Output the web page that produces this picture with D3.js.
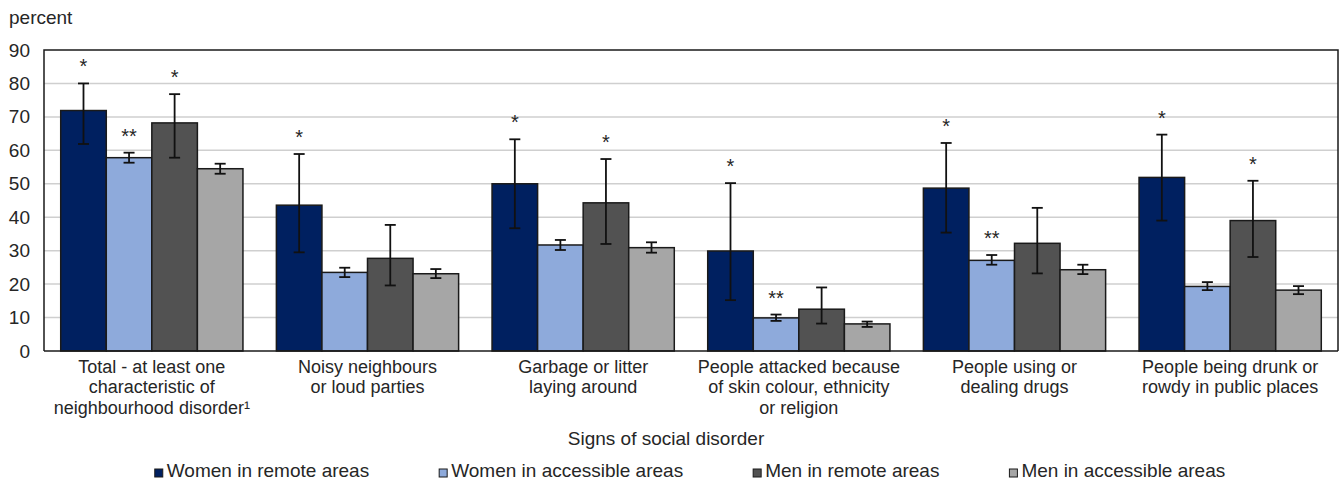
<!DOCTYPE html>
<html>
<head>
<meta charset="utf-8">
<script src="https://cdn.jsdelivr.net/npm/d3@7"></script>
<style>
  html, body { margin: 0; padding: 0; background: #fff; }
  svg { display: block; }
  text { font-family: "Liberation Sans", Arial, sans-serif; fill: #262626; }
</style>
</head>
<body>
<svg id="chart" width="1340" height="481"></svg>
<script>
// Signs of social disorder, by sex and remoteness of area (percent)
const categories = [
  ["Total - at least one", "characteristic of", "neighbourhood disorder\u00B9"],
  ["Noisy neighbours", "or loud parties"],
  ["Garbage or litter", "laying around"],
  ["People attacked because", "of skin colour, ethnicity", "or religion"],
  ["People using or", "dealing drugs"],
  ["People being drunk or", "rowdy in public places"]
];
const seriesNames = ["Women in remote areas", "Women in accessible areas", "Men in remote areas", "Men in accessible areas"];

const womenRemote      = [71.9, 43.6, 50.0, 29.9, 48.7, 51.9];
const womenRemoteLow   = [61.9, 29.5, 36.7, 15.2, 35.4, 39.0];
const womenRemoteHigh  = [80.0, 58.9, 63.3, 50.2, 62.2, 64.7];
const womenRemoteSig   = ["*", "*", "*", "*", "*", "*"];

const womenAccess      = [57.8, 23.5, 31.7, 9.9, 27.1, 19.3];
const womenAccessLow   = [56.3, 22.1, 30.2, 9.0, 25.8, 18.2];
const womenAccessHigh  = [59.3, 24.9, 33.2, 10.9, 28.7, 20.6];
const womenAccessSig   = ["**", "", "", "**", "**", ""];

const menRemote        = [68.2, 27.7, 44.3, 12.5, 32.2, 39.0];
const menRemoteLow     = [57.8, 19.6, 32.0, 8.2, 23.2, 28.1];
const menRemoteHigh    = [76.8, 37.7, 57.4, 19.0, 42.8, 50.9];
const menRemoteSig     = ["*", "", "*", "", "", "*"];

const menAccess        = [54.5, 23.1, 30.9, 8.1, 24.3, 18.2];
const menAccessLow     = [53.0, 21.8, 29.4, 7.2, 23.0, 17.0];
const menAccessHigh    = [56.0, 24.5, 32.5, 8.8, 25.8, 19.4];
const menAccessSig     = ["", "", "", "", "", ""];

const yTicks = [0, 10, 20, 30, 40, 50, 60, 70, 80, 90];
const colors = ["#002060", "#8eaadb", "#525252", "#a6a6a6"];

const series = [
  { name: seriesNames[0], values: womenRemote, low: womenRemoteLow, high: womenRemoteHigh, sig: womenRemoteSig },
  { name: seriesNames[1], values: womenAccess, low: womenAccessLow, high: womenAccessHigh, sig: womenAccessSig },
  { name: seriesNames[2], values: menRemote,   low: menRemoteLow,   high: menRemoteHigh,   sig: menRemoteSig },
  { name: seriesNames[3], values: menAccess,   low: menAccessLow,   high: menAccessHigh,   sig: menAccessSig }
];

const svg = d3.select("#chart");
const plot = { left: 44, right: 1338, top: 50, bottom: 351 };
const fontSize = 19;

const x0 = d3.scaleBand()
  .domain(d3.range(categories.length))
  .range([plot.left, plot.right])
  .paddingInner(0.155)
  .paddingOuter(0.0775);
const x1 = d3.scaleBand()
  .domain(d3.range(series.length))
  .range([0, x0.bandwidth()]);
const y = d3.scaleLinear().domain([0, 90]).range([plot.bottom, plot.top]);

// gridlines
svg.append("g")
  .selectAll("line")
  .data(yTicks.filter(t => t > 0 && t < 90))
  .join("line")
  .attr("x1", plot.left).attr("x2", plot.right)
  .attr("y1", d => y(d)).attr("y2", d => y(d))
  .attr("stroke", "#cfcfcf").attr("stroke-width", 1.5);

// y axis labels
const yAxis = svg.append("g")
  .attr("transform", `translate(${plot.left},0)`)
  .call(d3.axisLeft(y).tickValues(yTicks).tickSize(0).tickPadding(14));
yAxis.select(".domain").remove();
yAxis.selectAll("text")
  .attr("font-size", fontSize)
  .attr("font-family", "Liberation Sans, Arial, sans-serif")
  .style("fill", "#262626");

svg.append("text")
  .attr("x", 9).attr("y", 24)
  .attr("font-size", fontSize)
  .text("percent");

// bars
const groups = svg.append("g")
  .selectAll("g")
  .data(categories.map((c, i) => i))
  .join("g")
  .attr("transform", i => `translate(${x0(i)},0)`);

groups.selectAll("rect")
  .data(i => series.map((s, j) => ({ j, v: s.values[i] })))
  .join("rect")
  .attr("x", d => x1(d.j))
  .attr("y", d => y(d.v))
  .attr("width", x1.bandwidth())
  .attr("height", d => y(0) - y(d.v))
  .attr("fill", d => colors[d.j])
  .attr("stroke", "#1a1a1a")
  .attr("stroke-width", 1.5);

// error bars
const capHalf = 5.5;
const errs = groups.selectAll("g.err")
  .data(i => series.map((s, j) => ({ j, lo: s.low[i], hi: s.high[i], sig: s.sig[i] })))
  .join("g")
  .attr("class", "err")
  .attr("transform", d => `translate(${x1(d.j) + x1.bandwidth() / 2},0)`);
errs.append("line")
  .attr("x1", 0).attr("x2", 0)
  .attr("y1", d => y(d.lo)).attr("y2", d => y(d.hi));
errs.append("line")
  .attr("x1", -capHalf).attr("x2", capHalf)
  .attr("y1", d => y(d.hi)).attr("y2", d => y(d.hi));
errs.append("line")
  .attr("x1", -capHalf).attr("x2", capHalf)
  .attr("y1", d => y(d.lo)).attr("y2", d => y(d.lo));
errs.selectAll("line").attr("stroke", "#111").attr("stroke-width", 1.8);

// significance markers
errs.filter(d => d.sig)
  .append("text")
  .attr("x", 0)
  .attr("y", d => y(d.hi) - 10)
  .attr("text-anchor", "middle")
  .attr("font-size", 20)
  .text(d => d.sig);

// plot frame
svg.append("path")
  .attr("d", `M${plot.left},${plot.bottom}V${plot.top}H${plot.right}V${plot.bottom}`)
  .attr("fill", "none").attr("stroke", "#1a1a1a").attr("stroke-width", 1.5);
svg.append("line")
  .attr("x1", plot.left).attr("x2", plot.right)
  .attr("y1", plot.bottom).attr("y2", plot.bottom)
  .attr("stroke", "#1a1a1a").attr("stroke-width", 1.5);

// category labels, one text element per line
const catFont = 18;
const catLineHeight = 20.3;
const catGroups = svg.append("g")
  .selectAll("g")
  .data(categories)
  .join("g")
  .attr("transform", (d, i) => `translate(${x0(i) + x0.bandwidth() / 2},373)`);
catGroups.selectAll("text")
  .data(d => d)
  .join("text")
  .attr("x", 0)
  .attr("y", (d, k) => k * catLineHeight)
  .attr("text-anchor", "middle")
  .attr("font-size", catFont)
  .text(d => d);

// axis title
svg.append("text")
  .attr("x", 666).attr("y", 445)
  .attr("text-anchor", "middle")
  .attr("font-size", fontSize)
  .text("Signs of social disorder");

// legend
const legend = svg.append("g");
const items = legend.selectAll("g")
  .data(series)
  .join("g");
items.append("rect")
  .attr("width", 8).attr("height", 8)
  .attr("y", 469)
  .attr("fill", (d, j) => colors[j])
  .attr("stroke", "#1a1a1a").attr("stroke-width", 1);
items.append("text")
  .attr("x", 12).attr("y", 477)
  .attr("font-size", fontSize)
  .text(d => d.name);
const widths = [];
items.each(function () { widths.push(this.getBBox().width); });
const legendGap = 70;
const total = d3.sum(widths) + legendGap * (widths.length - 1);
let cursor = 690 - total / 2;
items.attr("transform", (d, j) => {
  const t = `translate(${cursor},0)`;
  cursor += widths[j] + legendGap;
  return t;
});
</script>
</body>
</html>
